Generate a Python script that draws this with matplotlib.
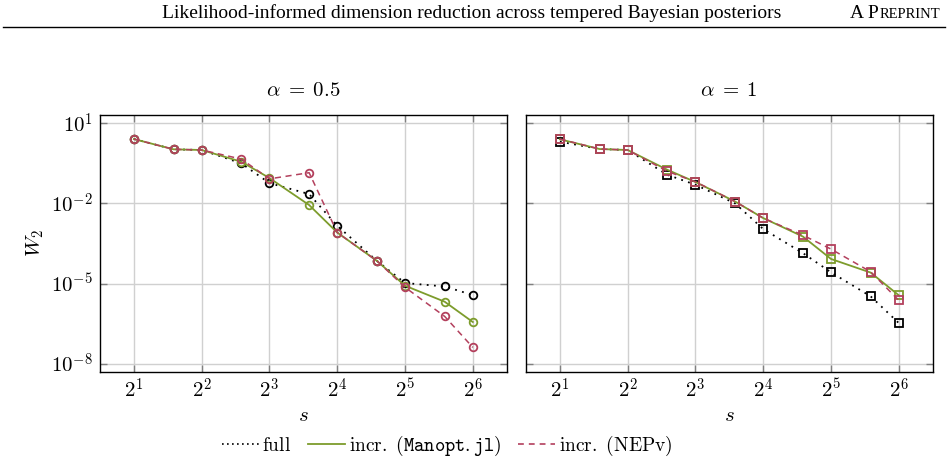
import matplotlib
matplotlib.use("Agg")
import matplotlib.pyplot as plt
import matplotlib.lines as mlines
import numpy as np

plt.rcParams['mathtext.fontset'] = 'cm'
plt.rcParams['font.family'] = ['Liberation Serif', 'DejaVu Serif']

s = [2, 3, 4, 6, 8, 12, 16, 24, 32, 48, 64]

# log10(W2)
a05_full = [0.41, 0.025, 0.0, -0.50, -1.24, -1.65, -2.84, -4.15, -4.98, -5.11, -5.43]
a05_manopt = [0.41, 0.025, 0.0, -0.44, -1.05, -2.06, -3.09, -4.15, -5.08, -5.68, -6.44]
a05_nepv = [0.41, 0.025, 0.0, -0.34, -1.08, -0.85, -3.09, -4.15, -5.14, -6.23, -7.39]

a1_full = [0.31, 0.036, 0.0, -0.93, -1.30, -2.00, -2.96, -3.86, -4.58, -5.48, -6.48]
a1_manopt = [0.40, 0.036, 0.0, -0.74, -1.20, -1.93, -2.55, -3.24, -4.08, -4.59, -5.44]
a1_nepv = [0.41, 0.036, 0.0, -0.80, -1.19, -1.93, -2.55, -3.19, -3.71, -4.56, -5.63]

titles = [r'$\alpha\;=\;0.5$', r'$\alpha\;=\;1$']
xticks = [2, 4, 8, 16, 32, 64]
xticklabels = [r'$2^{1}$', r'$2^{2}$', r'$2^{3}$', r'$2^{4}$', r'$2^{5}$', r'$2^{6}$']
yticks = [1e1, 1e-2, 1e-5, 1e-8]
yticklabels = [r'$10^{1}$', r'$10^{-2}$', r'$10^{-5}$', r'$10^{-8}$']
labels = [r'$\mathrm{full}$', r'$\mathrm{incr.\ (}\mathtt{Manopt.jl}\mathrm{)}$', r'$\mathrm{incr.\ (NEPv)}$']

green = '#7d9c2c'
red = '#b3405d'
dot = (0, (1, 3))
dash = (0, (4, 3))

W, H = 948, 465
fig = plt.figure(figsize=(W / 100, H / 100), dpi=100)

axw = 406.7 / W
axh = 256.7 / H
bottom = (H - 371.7) / H
ax1 = fig.add_axes([100 / W, bottom, axw, axh])
ax2 = fig.add_axes([526 / W, bottom, axw, axh])

data = [(a05_full, a05_manopt, a05_nepv, 'o'), (a1_full, a1_manopt, a1_nepv, 's')]

for i, (ax, (f, m, n, mk)) in enumerate(zip([ax1, ax2], data)):
    kw = dict(marker=mk, markerfacecolor='none', markersize=5.5, markeredgewidth=1.3)
    ax.plot(s, 10 ** np.array(f), color='black', linestyle=dot, lw=1.3, **kw)
    ax.plot(s, 10 ** np.array(m), color=green, linestyle='-', lw=1.3, **kw)
    ax.plot(s, 10 ** np.array(n), color=red, linestyle=dash, lw=1.1, **kw)
    ax.set_xscale('log', base=2)
    ax.set_yscale('log')
    ax.set_xlim(2 ** 0.5, 2 ** 6.5)
    ax.set_ylim(10 ** -8.3, 10 ** 1.31)
    ax.set_xticks(xticks)
    ax.set_xticklabels(xticklabels, fontsize=15)
    ax.set_yticks(yticks)
    ax.minorticks_off()
    if i == 0:
        ax.set_yticklabels(yticklabels, fontsize=15)
        ax.set_ylabel(r'$W_2$', fontsize=15, labelpad=4)
    else:
        ax.set_yticklabels([])
    ax.grid(True, color='#d0d0d0', lw=1.0)
    ax.set_axisbelow(True)
    ax.tick_params(which='both', direction='in', top=True, right=True, length=5,
                   color='#808080', width=1.0, pad=5)
    for sp in ax.spines.values():
        sp.set_linewidth(1.0)
    ax.set_xlabel(r'$s$', fontsize=15, labelpad=3)
    ax.set_title(titles[i], fontsize=15, pad=14)

leg_handles = [
    mlines.Line2D([], [], color='black', linestyle=(0, (1, 2)), lw=1.2),
    mlines.Line2D([], [], color=green, linestyle='-', lw=1.3),
    mlines.Line2D([], [], color=red, linestyle=(0, (3.5, 3)), lw=1.2),
]
fig.legend(leg_handles, labels, loc='center', bbox_to_anchor=(447 / W, 1 - 446 / H), ncol=3,
           frameon=False, fontsize=14, handlelength=1.9, handletextpad=0.2, columnspacing=0.85,
           borderpad=0.2)

# header
fig.text(472 / W, 1 - 13 / H, 'Likelihood-informed dimension reduction across tempered Bayesian posteriors',
         ha='center', va='center', fontsize=14)
t_rest = fig.text(940 / W, 1 - 18.5 / H, 'REPRINT', ha='right', va='baseline', fontsize=10.5)
t_a = fig.text(940 / W, 1 - 18.5 / H, 'A P', ha='right', va='baseline', fontsize=14)
fig.canvas.draw()
r = fig.canvas.get_renderer()
bb = t_rest.get_window_extent(renderer=r)
t_a.set_position(((940 - bb.width - 0.5) / W, 1 - 18.5 / H))
fig.add_artist(plt.Line2D([3 / W, 945 / W], [1 - 27 / H, 1 - 27 / H], color='black', lw=1.0))

fig.savefig('out.png', dpi=100)
